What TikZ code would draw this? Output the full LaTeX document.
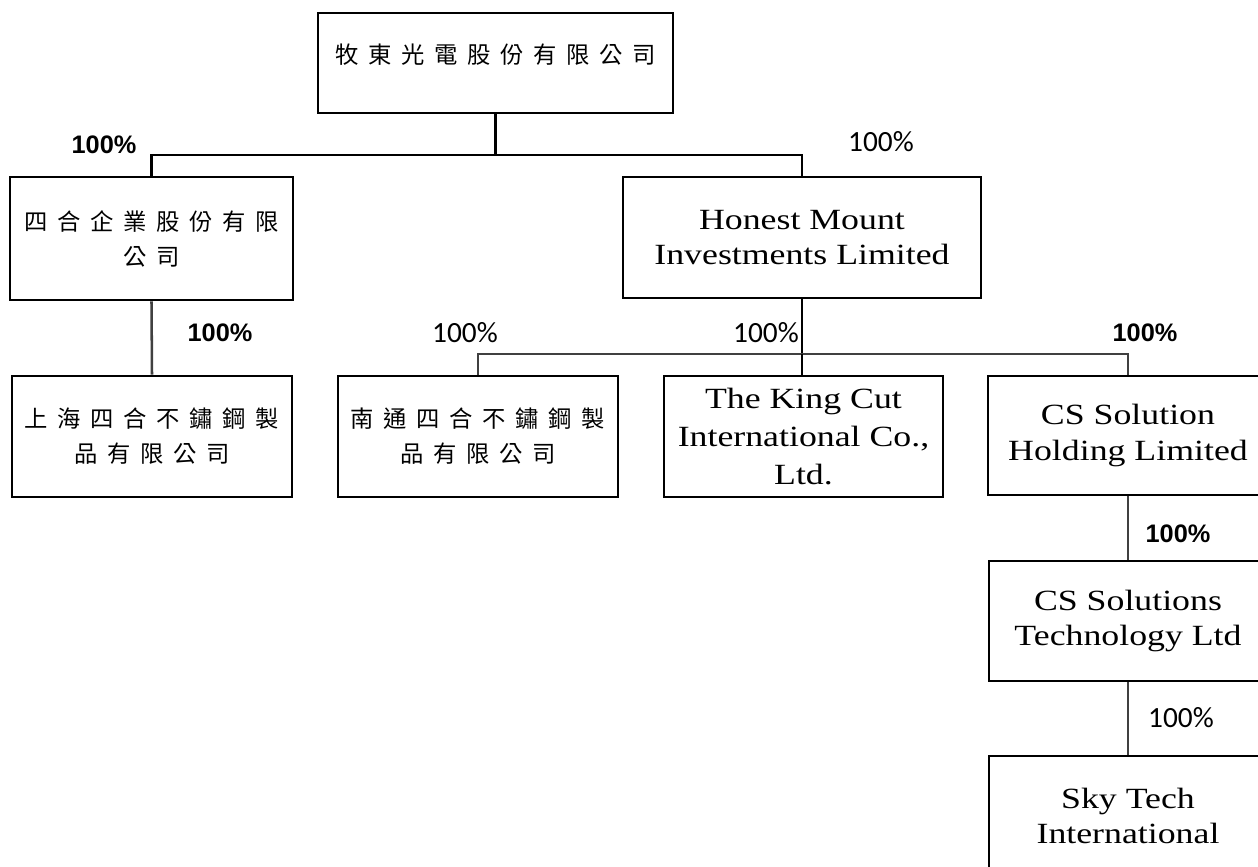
\documentclass[tikz,border=0pt]{standalone}
\usepackage{fontspec}
\setmainfont[FakeStretch=1.22]{Liberation Serif}
\newfontfamily\cjkfont{Noto Sans CJK TC}
\newfontfamily\pctfont{Liberation Sans}
\newfontfamily\pctlight{Carlito}
\newdimen\cjkgap \cjkgap=7.25pt
\def\spc#1{\spcB#1\relax}
\def\spcB#1{#1\spcA}
\def\spcA#1{\ifx\relax#1\else\kern\cjkgap#1\expandafter\spcA\fi}
\tikzset{
  bx/.style 2 args={draw=black, line width=2.1pt, minimum width=#1*0.75pt, minimum height=#2*0.75pt, inner sep=0pt, align=center},
  cjk/.style={font=\cjkfont\fontsize{17.5pt}{26.25pt}\selectfont},
  eng/.style={font=\fontsize{22pt}{26.5pt}\selectfont},
  engk/.style={font=\fontsize{22pt}{28.5pt}\selectfont},
  pctb/.style={font=\pctfont\bfseries\fontsize{19pt}{22pt}\selectfont, inner sep=0pt},
  pctr/.style={font=\pctlight\fontsize{22pt}{24pt}\selectfont, inner sep=0pt},
  topline/.style={draw=black, line width=2.2pt},
  subline/.style={draw=black!75, line width=1.9pt},
}
\begin{document}
\begin{tikzpicture}[x=0.75pt, y=-0.75pt]
\fill[white] (0,0) rectangle (1258,867);
\useasboundingbox (0,0) rectangle (1258,867);

% boxes
\node[bx={355}{100}, cjk, label={[cjk, yshift=6pt]center:\spc{牧東光電股份有限公司}}] (top) at (495.5,63) {};
\node[bx={283}{123}, cjk] (sihe) at (151.5,238.5) {\spc{四合企業股份有限}\\\spc{公司}};
\node[bx={358}{121}, eng] (honest) at (802,237.5) {Honest Mount\\Investments Limited};
\node[bx={280}{121}, cjk] (shanghai) at (152,436.5) {\spc{上海四合不鏽鋼製}\\\spc{品有限公司}};
\node[bx={280}{121}, cjk] (nantong) at (478,436.5) {\spc{南通四合不鏽鋼製}\\\spc{品有限公司}};
\node[bx={279}{121}, engk] (kingcut) at (803.5,436.5) {The King Cut\\International Co.,\\Ltd.};
\node[bx={280}{119}, eng] (cshold) at (1128,435.5) {CS Solution\\Holding Limited};
\node[bx={278}{120}, eng] (cstech) at (1128,621) {CS Solutions\\Technology Ltd};
\node[bx={278}{120}, eng] (skytech) at (1128,816) {Sky Tech\\International};

% junctions
\coordinate (j1) at (495.5,155);
\coordinate (j2) at (802,354);

% connectors
\draw[topline] (top.south) -- (j1);
\draw[topline] (sihe.north) -- (sihe.north |- j1) -- (honest.north |- j1) -- (honest.north);
\draw[subline] (sihe.south) -- (shanghai.north);
\draw[topline] (honest.south) -- (j2);
\draw[subline] (nantong.north) -- (nantong.north |- j2) -- (cshold.north |- j2) -- (cshold.north);
\draw[topline] (j2) -- (kingcut.north -| j2);
\draw[subline] (cshold.south) -- (cstech.north);
\draw[subline] (cstech.south) -- (skytech.north);

% percentage labels
\node[pctb] (p1) at (104,145) {100\%};
\node[pctr] (p2) at (881,142) {100\%};
\node[pctb] (p3) at (220,333) {100\%};
\node[pctr] (p4) at (465,333) {100\%};
\node[pctr] (p5) at (766,333) {100\%};
\node[pctb] (p6) at (1145,333) {100\%};
\node[pctb] (p7) at (1178,534) {100\%};
\node[pctr] (p8) at (1181,718) {100\%};
\end{tikzpicture}
\end{document}
